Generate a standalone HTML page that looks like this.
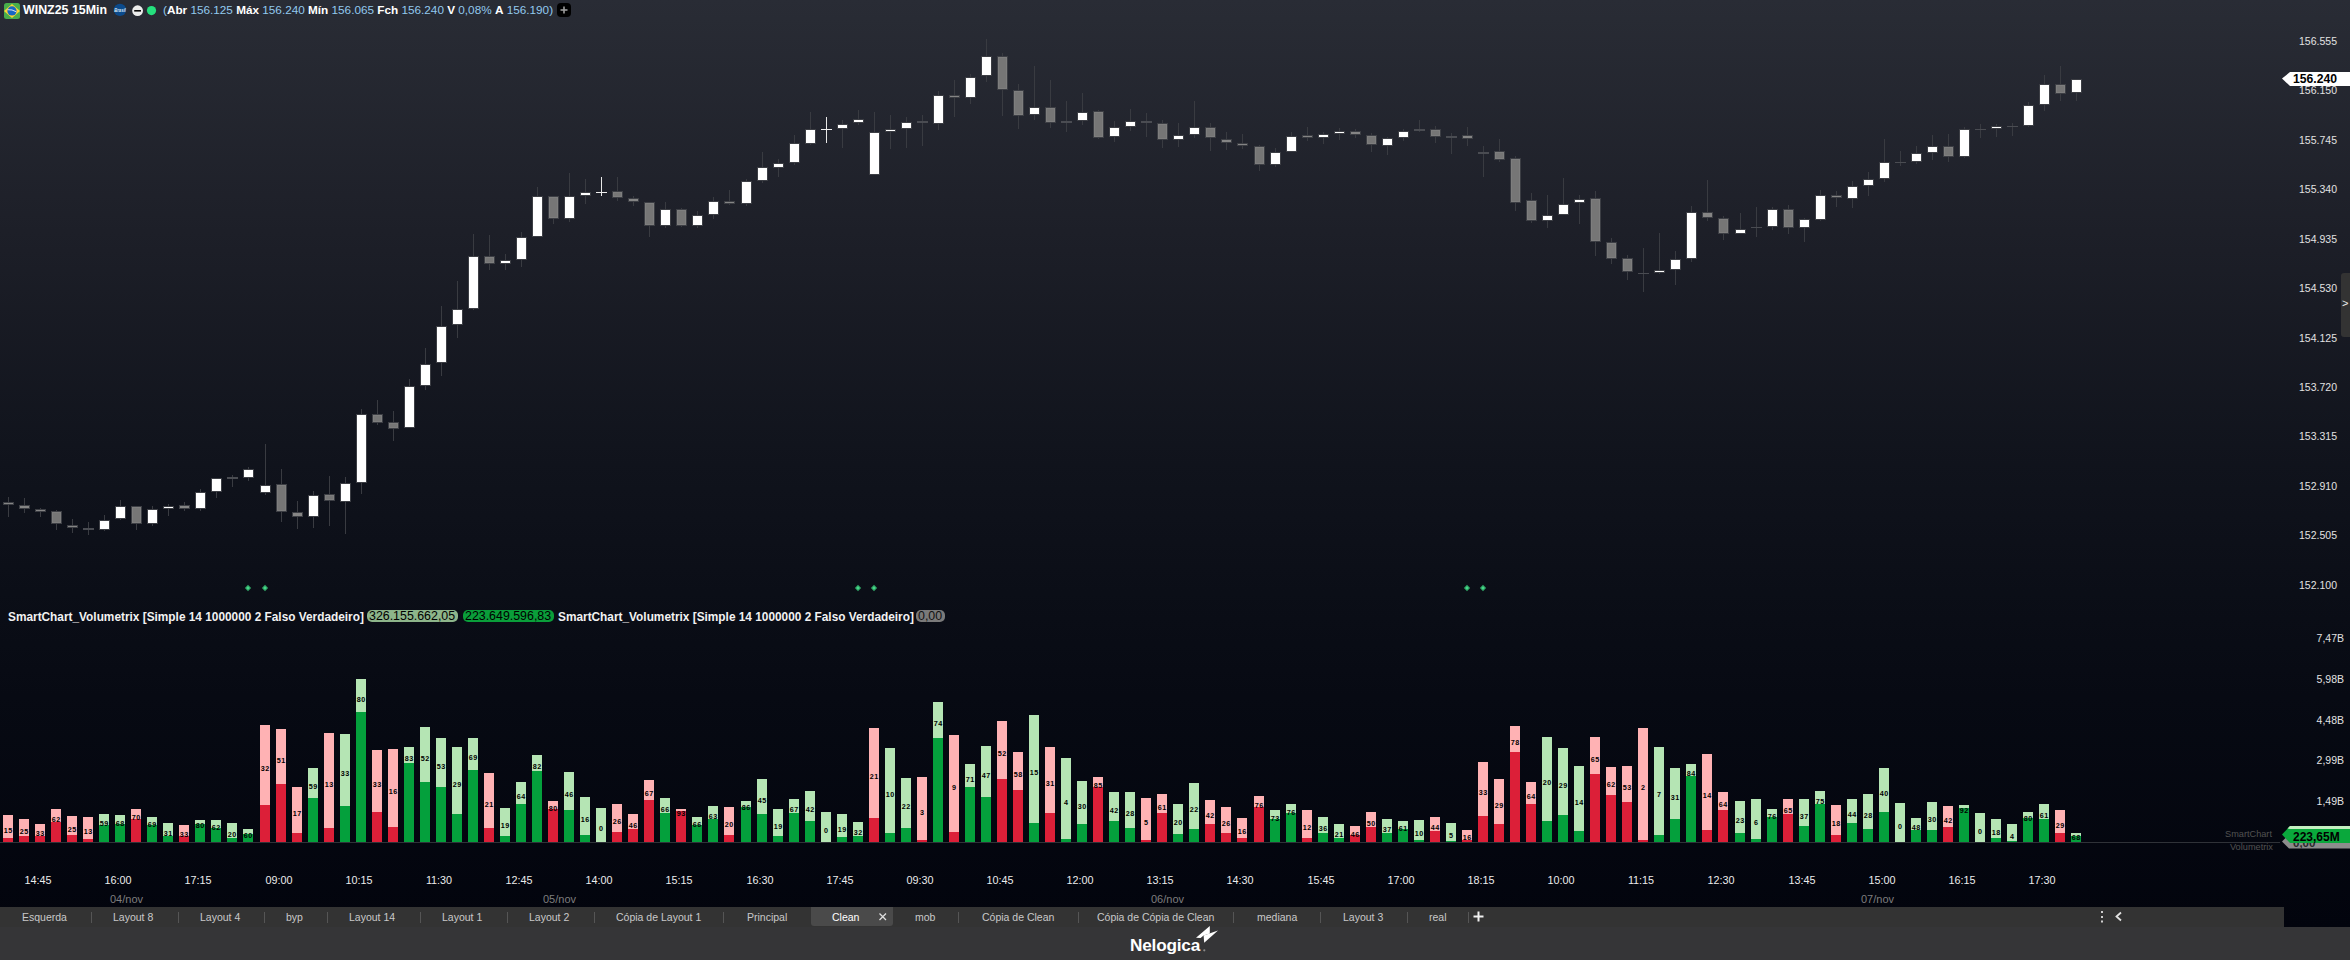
<!DOCTYPE html>
<html><head><meta charset="utf-8"><title>WINZ25 15Min</title>
<style>
html,body{margin:0;padding:0;width:2350px;height:960px;overflow:hidden;background:#353535;}
body{position:relative;font-family:"Liberation Sans",sans-serif;}
.abs{position:absolute;white-space:nowrap;}
#bg{position:absolute;left:0;top:0;width:2350px;height:928px;background:linear-gradient(to bottom,#292c35 0px,#1d1f28 232px,#10131c 464px,#070a13 696px,#02040d 928px);}
#tabbar{position:absolute;left:0;top:907px;width:2284px;height:20px;background:#333333;}
#bottom{position:absolute;left:0;top:927px;width:2350px;height:33px;background:#353537;}
.px{position:absolute;right:13px;width:60px;text-align:right;font-size:10.5px;color:#e2e2e2;line-height:12px;}
.vx{position:absolute;right:6px;width:60px;text-align:right;font-size:10.5px;color:#e2e2e2;line-height:12px;}
.tl{position:absolute;top:874px;font-size:10.8px;color:#ececec;line-height:12px;width:40px;text-align:center;}
.dl{position:absolute;top:893px;font-size:11px;color:#7e7e7e;line-height:12px;}
.tab{position:absolute;top:910.7px;font-size:10.5px;color:#c9c9c9;line-height:13px;}
.sep{position:absolute;top:912px;width:1px;height:11px;background:#555;}
.bl{position:absolute;width:10px;overflow:hidden;text-align:center;font-size:7.2px;font-weight:bold;color:#000;line-height:8px;letter-spacing:0.35px;text-indent:0.35px;}
</style></head><body>
<div id="bg"></div>

<svg class="abs" style="left:0;top:0" width="2350" height="960" shape-rendering="crispEdges">
<rect x="8" y="497" width="1" height="20" fill="#393b41"/>
<rect x="3" y="502" width="11" height="3" fill="#3c3e44"/>
<rect x="4" y="503" width="9" height="1" fill="#858585"/>
<rect x="24" y="498" width="1" height="15" fill="#393b41"/>
<rect x="19" y="505" width="11" height="4" fill="#3c3e44"/>
<rect x="20" y="506" width="9" height="2" fill="#858585"/>
<rect x="40" y="508" width="1" height="9" fill="#393b41"/>
<rect x="35" y="509" width="11" height="3" fill="#3c3e44"/>
<rect x="36" y="510" width="9" height="1" fill="#858585"/>
<rect x="56" y="510" width="1" height="20" fill="#393b41"/>
<rect x="51" y="511" width="11" height="13" fill="#3c3e44"/>
<rect x="52" y="512" width="9" height="11" fill="#7e7e7e"/>
<rect x="53" y="513" width="7" height="9" fill="#767676"/>
<rect x="72" y="519" width="1" height="14" fill="#393b41"/>
<rect x="67" y="525" width="11" height="3" fill="#3c3e44"/>
<rect x="68" y="526" width="9" height="1" fill="#858585"/>
<rect x="88" y="522" width="1" height="13" fill="#393b41"/>
<rect x="83" y="528" width="11" height="2" fill="#4a4c52"/>
<rect x="104" y="515" width="1" height="16" fill="#393b41"/>
<rect x="99" y="520" width="11" height="10" fill="#3c3e44"/>
<rect x="100" y="521" width="9" height="8" fill="#ffffff"/>
<rect x="120" y="500" width="1" height="20" fill="#393b41"/>
<rect x="115" y="506" width="11" height="13" fill="#3c3e44"/>
<rect x="116" y="507" width="9" height="11" fill="#ffffff"/>
<rect x="136" y="506" width="1" height="24" fill="#393b41"/>
<rect x="131" y="506" width="11" height="18" fill="#3c3e44"/>
<rect x="132" y="507" width="9" height="16" fill="#7e7e7e"/>
<rect x="133" y="508" width="7" height="14" fill="#767676"/>
<rect x="152" y="506" width="1" height="20" fill="#393b41"/>
<rect x="147" y="509" width="11" height="15" fill="#3c3e44"/>
<rect x="148" y="510" width="9" height="13" fill="#ffffff"/>
<rect x="168" y="504" width="1" height="12" fill="#393b41"/>
<rect x="163" y="506" width="11" height="3" fill="#3c3e44"/>
<rect x="164" y="507" width="9" height="1" fill="#ffffff"/>
<rect x="184" y="502" width="1" height="9" fill="#393b41"/>
<rect x="179" y="505" width="11" height="4" fill="#3c3e44"/>
<rect x="180" y="506" width="9" height="2" fill="#858585"/>
<rect x="200" y="489" width="1" height="22" fill="#393b41"/>
<rect x="195" y="492" width="11" height="17" fill="#3c3e44"/>
<rect x="196" y="493" width="9" height="15" fill="#ffffff"/>
<rect x="216" y="478" width="1" height="20" fill="#393b41"/>
<rect x="211" y="478" width="11" height="14" fill="#3c3e44"/>
<rect x="212" y="479" width="9" height="12" fill="#ffffff"/>
<rect x="232" y="475" width="1" height="12" fill="#393b41"/>
<rect x="227" y="477" width="11" height="2" fill="#4a4c52"/>
<rect x="248" y="467" width="1" height="14" fill="#393b41"/>
<rect x="243" y="469" width="11" height="9" fill="#3c3e44"/>
<rect x="244" y="470" width="9" height="7" fill="#ffffff"/>
<rect x="265" y="444" width="1" height="51" fill="#393b41"/>
<rect x="260" y="485" width="11" height="8" fill="#3c3e44"/>
<rect x="261" y="486" width="9" height="6" fill="#ffffff"/>
<rect x="281" y="469" width="1" height="53" fill="#393b41"/>
<rect x="276" y="484" width="11" height="28" fill="#3c3e44"/>
<rect x="277" y="485" width="9" height="26" fill="#7e7e7e"/>
<rect x="278" y="486" width="7" height="24" fill="#767676"/>
<rect x="297" y="501" width="1" height="28" fill="#393b41"/>
<rect x="292" y="512" width="11" height="5" fill="#3c3e44"/>
<rect x="293" y="513" width="9" height="3" fill="#858585"/>
<rect x="313" y="491" width="1" height="37" fill="#393b41"/>
<rect x="308" y="495" width="11" height="22" fill="#3c3e44"/>
<rect x="309" y="496" width="9" height="20" fill="#ffffff"/>
<rect x="329" y="476" width="1" height="50" fill="#393b41"/>
<rect x="324" y="494" width="11" height="7" fill="#3c3e44"/>
<rect x="325" y="495" width="9" height="5" fill="#7e7e7e"/>
<rect x="326" y="496" width="7" height="3" fill="#767676"/>
<rect x="345" y="477" width="1" height="57" fill="#393b41"/>
<rect x="340" y="483" width="11" height="19" fill="#3c3e44"/>
<rect x="341" y="484" width="9" height="17" fill="#ffffff"/>
<rect x="361" y="409" width="1" height="85" fill="#393b41"/>
<rect x="356" y="414" width="11" height="69" fill="#3c3e44"/>
<rect x="357" y="415" width="9" height="67" fill="#ffffff"/>
<rect x="377" y="400" width="1" height="25" fill="#393b41"/>
<rect x="372" y="414" width="11" height="9" fill="#3c3e44"/>
<rect x="373" y="415" width="9" height="7" fill="#7e7e7e"/>
<rect x="374" y="416" width="7" height="5" fill="#767676"/>
<rect x="393" y="411" width="1" height="30" fill="#393b41"/>
<rect x="388" y="422" width="11" height="7" fill="#3c3e44"/>
<rect x="389" y="423" width="9" height="5" fill="#7e7e7e"/>
<rect x="390" y="424" width="7" height="3" fill="#767676"/>
<rect x="409" y="379" width="1" height="49" fill="#393b41"/>
<rect x="404" y="386" width="11" height="42" fill="#3c3e44"/>
<rect x="405" y="387" width="9" height="40" fill="#ffffff"/>
<rect x="425" y="348" width="1" height="42" fill="#393b41"/>
<rect x="420" y="364" width="11" height="22" fill="#3c3e44"/>
<rect x="421" y="365" width="9" height="20" fill="#ffffff"/>
<rect x="441" y="306" width="1" height="70" fill="#393b41"/>
<rect x="436" y="326" width="11" height="37" fill="#3c3e44"/>
<rect x="437" y="327" width="9" height="35" fill="#ffffff"/>
<rect x="457" y="281" width="1" height="57" fill="#393b41"/>
<rect x="452" y="309" width="11" height="16" fill="#3c3e44"/>
<rect x="453" y="310" width="9" height="14" fill="#ffffff"/>
<rect x="473" y="234" width="1" height="76" fill="#393b41"/>
<rect x="468" y="256" width="11" height="53" fill="#3c3e44"/>
<rect x="469" y="257" width="9" height="51" fill="#ffffff"/>
<rect x="489" y="235" width="1" height="35" fill="#393b41"/>
<rect x="484" y="256" width="11" height="8" fill="#3c3e44"/>
<rect x="485" y="257" width="9" height="6" fill="#7e7e7e"/>
<rect x="486" y="258" width="7" height="4" fill="#767676"/>
<rect x="505" y="254" width="1" height="16" fill="#393b41"/>
<rect x="500" y="260" width="11" height="4" fill="#3c3e44"/>
<rect x="501" y="261" width="9" height="2" fill="#ffffff"/>
<rect x="521" y="232" width="1" height="35" fill="#393b41"/>
<rect x="516" y="237" width="11" height="23" fill="#3c3e44"/>
<rect x="517" y="238" width="9" height="21" fill="#ffffff"/>
<rect x="537" y="187" width="1" height="49" fill="#393b41"/>
<rect x="532" y="196" width="11" height="41" fill="#3c3e44"/>
<rect x="533" y="197" width="9" height="39" fill="#ffffff"/>
<rect x="553" y="197" width="1" height="27" fill="#393b41"/>
<rect x="548" y="196" width="11" height="23" fill="#3c3e44"/>
<rect x="549" y="197" width="9" height="21" fill="#7e7e7e"/>
<rect x="550" y="198" width="7" height="19" fill="#767676"/>
<rect x="569" y="173" width="1" height="49" fill="#393b41"/>
<rect x="564" y="196" width="11" height="23" fill="#3c3e44"/>
<rect x="565" y="197" width="9" height="21" fill="#ffffff"/>
<rect x="585" y="179" width="1" height="25" fill="#393b41"/>
<rect x="580" y="192" width="11" height="4" fill="#3c3e44"/>
<rect x="581" y="193" width="9" height="2" fill="#ffffff"/>
<rect x="601" y="177" width="1" height="19" fill="#e8e8e8"/>
<rect x="596" y="192" width="11" height="1" fill="#f0f0f0"/>
<rect x="617" y="177" width="1" height="24" fill="#393b41"/>
<rect x="612" y="191" width="11" height="7" fill="#3c3e44"/>
<rect x="613" y="192" width="9" height="5" fill="#7e7e7e"/>
<rect x="614" y="193" width="7" height="3" fill="#767676"/>
<rect x="633" y="196" width="1" height="10" fill="#393b41"/>
<rect x="628" y="198" width="11" height="4" fill="#3c3e44"/>
<rect x="629" y="199" width="9" height="2" fill="#858585"/>
<rect x="649" y="203" width="1" height="34" fill="#393b41"/>
<rect x="644" y="202" width="11" height="24" fill="#3c3e44"/>
<rect x="645" y="203" width="9" height="22" fill="#7e7e7e"/>
<rect x="646" y="204" width="7" height="20" fill="#767676"/>
<rect x="665" y="202" width="1" height="26" fill="#393b41"/>
<rect x="660" y="209" width="11" height="17" fill="#3c3e44"/>
<rect x="661" y="210" width="9" height="15" fill="#ffffff"/>
<rect x="681" y="208" width="1" height="19" fill="#393b41"/>
<rect x="676" y="209" width="11" height="17" fill="#3c3e44"/>
<rect x="677" y="210" width="9" height="15" fill="#7e7e7e"/>
<rect x="678" y="211" width="7" height="13" fill="#767676"/>
<rect x="697" y="211" width="1" height="17" fill="#393b41"/>
<rect x="692" y="215" width="11" height="11" fill="#3c3e44"/>
<rect x="693" y="216" width="9" height="9" fill="#ffffff"/>
<rect x="713" y="197" width="1" height="22" fill="#393b41"/>
<rect x="708" y="201" width="11" height="14" fill="#3c3e44"/>
<rect x="709" y="202" width="9" height="12" fill="#ffffff"/>
<rect x="729" y="190" width="1" height="15" fill="#393b41"/>
<rect x="724" y="201" width="11" height="3" fill="#3c3e44"/>
<rect x="725" y="202" width="9" height="1" fill="#858585"/>
<rect x="746" y="179" width="1" height="27" fill="#393b41"/>
<rect x="741" y="181" width="11" height="23" fill="#3c3e44"/>
<rect x="742" y="182" width="9" height="21" fill="#ffffff"/>
<rect x="762" y="152" width="1" height="31" fill="#393b41"/>
<rect x="757" y="167" width="11" height="14" fill="#3c3e44"/>
<rect x="758" y="168" width="9" height="12" fill="#ffffff"/>
<rect x="778" y="159" width="1" height="18" fill="#393b41"/>
<rect x="773" y="163" width="11" height="5" fill="#3c3e44"/>
<rect x="774" y="164" width="9" height="3" fill="#ffffff"/>
<rect x="794" y="135" width="1" height="30" fill="#393b41"/>
<rect x="789" y="143" width="11" height="20" fill="#3c3e44"/>
<rect x="790" y="144" width="9" height="18" fill="#ffffff"/>
<rect x="810" y="112" width="1" height="33" fill="#393b41"/>
<rect x="805" y="129" width="11" height="15" fill="#3c3e44"/>
<rect x="806" y="130" width="9" height="13" fill="#ffffff"/>
<rect x="826" y="117" width="1" height="26" fill="#e8e8e8"/>
<rect x="821" y="129" width="11" height="1" fill="#f0f0f0"/>
<rect x="842" y="120" width="1" height="28" fill="#393b41"/>
<rect x="837" y="124" width="11" height="5" fill="#3c3e44"/>
<rect x="838" y="125" width="9" height="3" fill="#ffffff"/>
<rect x="858" y="110" width="1" height="15" fill="#393b41"/>
<rect x="853" y="119" width="11" height="4" fill="#3c3e44"/>
<rect x="854" y="120" width="9" height="2" fill="#ffffff"/>
<rect x="874" y="112" width="1" height="62" fill="#393b41"/>
<rect x="869" y="132" width="11" height="43" fill="#3c3e44"/>
<rect x="870" y="133" width="9" height="41" fill="#ffffff"/>
<rect x="890" y="115" width="1" height="34" fill="#393b41"/>
<rect x="885" y="129" width="11" height="3" fill="#3c3e44"/>
<rect x="886" y="130" width="9" height="1" fill="#ffffff"/>
<rect x="906" y="117" width="1" height="31" fill="#393b41"/>
<rect x="901" y="122" width="11" height="7" fill="#3c3e44"/>
<rect x="902" y="123" width="9" height="5" fill="#ffffff"/>
<rect x="922" y="115" width="1" height="31" fill="#393b41"/>
<rect x="917" y="121" width="11" height="2" fill="#4a4c52"/>
<rect x="938" y="91" width="1" height="39" fill="#393b41"/>
<rect x="933" y="95" width="11" height="29" fill="#3c3e44"/>
<rect x="934" y="96" width="9" height="27" fill="#ffffff"/>
<rect x="954" y="80" width="1" height="37" fill="#393b41"/>
<rect x="949" y="95" width="11" height="3" fill="#3c3e44"/>
<rect x="950" y="96" width="9" height="1" fill="#858585"/>
<rect x="970" y="74" width="1" height="30" fill="#393b41"/>
<rect x="965" y="77" width="11" height="21" fill="#3c3e44"/>
<rect x="966" y="78" width="9" height="19" fill="#ffffff"/>
<rect x="986" y="39" width="1" height="43" fill="#393b41"/>
<rect x="981" y="56" width="11" height="20" fill="#3c3e44"/>
<rect x="982" y="57" width="9" height="18" fill="#ffffff"/>
<rect x="1002" y="53" width="1" height="63" fill="#393b41"/>
<rect x="997" y="56" width="11" height="34" fill="#3c3e44"/>
<rect x="998" y="57" width="9" height="32" fill="#7e7e7e"/>
<rect x="999" y="58" width="7" height="30" fill="#767676"/>
<rect x="1018" y="84" width="1" height="45" fill="#393b41"/>
<rect x="1013" y="90" width="11" height="26" fill="#3c3e44"/>
<rect x="1014" y="91" width="9" height="24" fill="#7e7e7e"/>
<rect x="1015" y="92" width="7" height="22" fill="#767676"/>
<rect x="1034" y="66" width="1" height="54" fill="#393b41"/>
<rect x="1029" y="107" width="11" height="8" fill="#3c3e44"/>
<rect x="1030" y="108" width="9" height="6" fill="#ffffff"/>
<rect x="1050" y="80" width="1" height="48" fill="#393b41"/>
<rect x="1045" y="107" width="11" height="16" fill="#3c3e44"/>
<rect x="1046" y="108" width="9" height="14" fill="#7e7e7e"/>
<rect x="1047" y="109" width="7" height="12" fill="#767676"/>
<rect x="1066" y="101" width="1" height="31" fill="#393b41"/>
<rect x="1061" y="121" width="11" height="2" fill="#4a4c52"/>
<rect x="1082" y="93" width="1" height="32" fill="#393b41"/>
<rect x="1077" y="112" width="11" height="9" fill="#3c3e44"/>
<rect x="1078" y="113" width="9" height="7" fill="#ffffff"/>
<rect x="1098" y="110" width="1" height="29" fill="#393b41"/>
<rect x="1093" y="111" width="11" height="27" fill="#3c3e44"/>
<rect x="1094" y="112" width="9" height="25" fill="#7e7e7e"/>
<rect x="1095" y="113" width="7" height="23" fill="#767676"/>
<rect x="1114" y="121" width="1" height="21" fill="#393b41"/>
<rect x="1109" y="127" width="11" height="10" fill="#3c3e44"/>
<rect x="1110" y="128" width="9" height="8" fill="#ffffff"/>
<rect x="1130" y="109" width="1" height="22" fill="#393b41"/>
<rect x="1125" y="121" width="11" height="6" fill="#3c3e44"/>
<rect x="1126" y="122" width="9" height="4" fill="#ffffff"/>
<rect x="1146" y="113" width="1" height="24" fill="#393b41"/>
<rect x="1141" y="121" width="11" height="2" fill="#4a4c52"/>
<rect x="1162" y="120" width="1" height="28" fill="#393b41"/>
<rect x="1157" y="123" width="11" height="17" fill="#3c3e44"/>
<rect x="1158" y="124" width="9" height="15" fill="#7e7e7e"/>
<rect x="1159" y="125" width="7" height="13" fill="#767676"/>
<rect x="1178" y="123" width="1" height="24" fill="#393b41"/>
<rect x="1173" y="135" width="11" height="5" fill="#3c3e44"/>
<rect x="1174" y="136" width="9" height="3" fill="#ffffff"/>
<rect x="1194" y="101" width="1" height="37" fill="#393b41"/>
<rect x="1189" y="127" width="11" height="8" fill="#3c3e44"/>
<rect x="1190" y="128" width="9" height="6" fill="#ffffff"/>
<rect x="1210" y="123" width="1" height="28" fill="#393b41"/>
<rect x="1205" y="127" width="11" height="11" fill="#3c3e44"/>
<rect x="1206" y="128" width="9" height="9" fill="#7e7e7e"/>
<rect x="1207" y="129" width="7" height="7" fill="#767676"/>
<rect x="1226" y="132" width="1" height="18" fill="#393b41"/>
<rect x="1221" y="139" width="11" height="4" fill="#3c3e44"/>
<rect x="1222" y="140" width="9" height="2" fill="#858585"/>
<rect x="1242" y="134" width="1" height="15" fill="#393b41"/>
<rect x="1237" y="143" width="11" height="3" fill="#3c3e44"/>
<rect x="1238" y="144" width="9" height="1" fill="#858585"/>
<rect x="1259" y="145" width="1" height="26" fill="#393b41"/>
<rect x="1254" y="146" width="11" height="19" fill="#3c3e44"/>
<rect x="1255" y="147" width="9" height="17" fill="#7e7e7e"/>
<rect x="1256" y="148" width="7" height="15" fill="#767676"/>
<rect x="1275" y="148" width="1" height="19" fill="#393b41"/>
<rect x="1270" y="152" width="11" height="13" fill="#3c3e44"/>
<rect x="1271" y="153" width="9" height="11" fill="#ffffff"/>
<rect x="1291" y="132" width="1" height="19" fill="#393b41"/>
<rect x="1286" y="136" width="11" height="16" fill="#3c3e44"/>
<rect x="1287" y="137" width="9" height="14" fill="#ffffff"/>
<rect x="1307" y="127" width="1" height="14" fill="#393b41"/>
<rect x="1302" y="135" width="11" height="3" fill="#3c3e44"/>
<rect x="1303" y="136" width="9" height="1" fill="#858585"/>
<rect x="1323" y="132" width="1" height="12" fill="#393b41"/>
<rect x="1318" y="134" width="11" height="4" fill="#3c3e44"/>
<rect x="1319" y="135" width="9" height="2" fill="#ffffff"/>
<rect x="1339" y="128" width="1" height="12" fill="#393b41"/>
<rect x="1334" y="131" width="11" height="3" fill="#3c3e44"/>
<rect x="1335" y="132" width="9" height="1" fill="#ffffff"/>
<rect x="1355" y="129" width="1" height="9" fill="#393b41"/>
<rect x="1350" y="131" width="11" height="4" fill="#3c3e44"/>
<rect x="1351" y="132" width="9" height="2" fill="#858585"/>
<rect x="1371" y="133" width="1" height="19" fill="#393b41"/>
<rect x="1366" y="135" width="11" height="10" fill="#3c3e44"/>
<rect x="1367" y="136" width="9" height="8" fill="#7e7e7e"/>
<rect x="1368" y="137" width="7" height="6" fill="#767676"/>
<rect x="1387" y="137" width="1" height="18" fill="#393b41"/>
<rect x="1382" y="138" width="11" height="8" fill="#3c3e44"/>
<rect x="1383" y="139" width="9" height="6" fill="#ffffff"/>
<rect x="1403" y="129" width="1" height="12" fill="#393b41"/>
<rect x="1398" y="131" width="11" height="7" fill="#3c3e44"/>
<rect x="1399" y="132" width="9" height="5" fill="#ffffff"/>
<rect x="1419" y="120" width="1" height="12" fill="#393b41"/>
<rect x="1414" y="129" width="11" height="2" fill="#4a4c52"/>
<rect x="1435" y="126" width="1" height="17" fill="#393b41"/>
<rect x="1430" y="129" width="11" height="8" fill="#3c3e44"/>
<rect x="1431" y="130" width="9" height="6" fill="#7e7e7e"/>
<rect x="1432" y="131" width="7" height="4" fill="#767676"/>
<rect x="1451" y="133" width="1" height="21" fill="#393b41"/>
<rect x="1446" y="136" width="11" height="2" fill="#4a4c52"/>
<rect x="1467" y="127" width="1" height="19" fill="#393b41"/>
<rect x="1462" y="135" width="11" height="4" fill="#3c3e44"/>
<rect x="1463" y="136" width="9" height="2" fill="#858585"/>
<rect x="1483" y="146" width="1" height="31" fill="#393b41"/>
<rect x="1478" y="152" width="11" height="2" fill="#4a4c52"/>
<rect x="1499" y="139" width="1" height="23" fill="#393b41"/>
<rect x="1494" y="151" width="11" height="9" fill="#3c3e44"/>
<rect x="1495" y="152" width="9" height="7" fill="#7e7e7e"/>
<rect x="1496" y="153" width="7" height="5" fill="#767676"/>
<rect x="1515" y="156" width="1" height="55" fill="#393b41"/>
<rect x="1510" y="158" width="11" height="45" fill="#3c3e44"/>
<rect x="1511" y="159" width="9" height="43" fill="#7e7e7e"/>
<rect x="1512" y="160" width="7" height="41" fill="#767676"/>
<rect x="1531" y="193" width="1" height="30" fill="#393b41"/>
<rect x="1526" y="200" width="11" height="21" fill="#3c3e44"/>
<rect x="1527" y="201" width="9" height="19" fill="#7e7e7e"/>
<rect x="1528" y="202" width="7" height="17" fill="#767676"/>
<rect x="1547" y="195" width="1" height="33" fill="#393b41"/>
<rect x="1542" y="215" width="11" height="6" fill="#3c3e44"/>
<rect x="1543" y="216" width="9" height="4" fill="#ffffff"/>
<rect x="1563" y="178" width="1" height="36" fill="#393b41"/>
<rect x="1558" y="204" width="11" height="11" fill="#3c3e44"/>
<rect x="1559" y="205" width="9" height="9" fill="#ffffff"/>
<rect x="1579" y="195" width="1" height="29" fill="#393b41"/>
<rect x="1574" y="199" width="11" height="4" fill="#3c3e44"/>
<rect x="1575" y="200" width="9" height="2" fill="#ffffff"/>
<rect x="1595" y="191" width="1" height="65" fill="#393b41"/>
<rect x="1590" y="198" width="11" height="44" fill="#3c3e44"/>
<rect x="1591" y="199" width="9" height="42" fill="#7e7e7e"/>
<rect x="1592" y="200" width="7" height="40" fill="#767676"/>
<rect x="1611" y="238" width="1" height="26" fill="#393b41"/>
<rect x="1606" y="242" width="11" height="17" fill="#3c3e44"/>
<rect x="1607" y="243" width="9" height="15" fill="#7e7e7e"/>
<rect x="1608" y="244" width="7" height="13" fill="#767676"/>
<rect x="1627" y="255" width="1" height="25" fill="#393b41"/>
<rect x="1622" y="258" width="11" height="14" fill="#3c3e44"/>
<rect x="1623" y="259" width="9" height="12" fill="#7e7e7e"/>
<rect x="1624" y="260" width="7" height="10" fill="#767676"/>
<rect x="1643" y="248" width="1" height="44" fill="#393b41"/>
<rect x="1638" y="273" width="11" height="1" fill="#4a4c52"/>
<rect x="1659" y="233" width="1" height="41" fill="#393b41"/>
<rect x="1654" y="270" width="11" height="3" fill="#3c3e44"/>
<rect x="1655" y="271" width="9" height="1" fill="#ffffff"/>
<rect x="1675" y="251" width="1" height="34" fill="#393b41"/>
<rect x="1670" y="259" width="11" height="11" fill="#3c3e44"/>
<rect x="1671" y="260" width="9" height="9" fill="#ffffff"/>
<rect x="1691" y="206" width="1" height="56" fill="#393b41"/>
<rect x="1686" y="212" width="11" height="47" fill="#3c3e44"/>
<rect x="1687" y="213" width="9" height="45" fill="#ffffff"/>
<rect x="1707" y="180" width="1" height="41" fill="#393b41"/>
<rect x="1702" y="212" width="11" height="6" fill="#3c3e44"/>
<rect x="1703" y="213" width="9" height="4" fill="#858585"/>
<rect x="1723" y="216" width="1" height="24" fill="#393b41"/>
<rect x="1718" y="218" width="11" height="16" fill="#3c3e44"/>
<rect x="1719" y="219" width="9" height="14" fill="#7e7e7e"/>
<rect x="1720" y="220" width="7" height="12" fill="#767676"/>
<rect x="1740" y="213" width="1" height="21" fill="#393b41"/>
<rect x="1735" y="229" width="11" height="5" fill="#3c3e44"/>
<rect x="1736" y="230" width="9" height="3" fill="#ffffff"/>
<rect x="1756" y="207" width="1" height="30" fill="#393b41"/>
<rect x="1751" y="227" width="11" height="1" fill="#4a4c52"/>
<rect x="1772" y="207" width="1" height="23" fill="#393b41"/>
<rect x="1767" y="209" width="11" height="18" fill="#3c3e44"/>
<rect x="1768" y="210" width="9" height="16" fill="#ffffff"/>
<rect x="1788" y="205" width="1" height="29" fill="#393b41"/>
<rect x="1783" y="209" width="11" height="19" fill="#3c3e44"/>
<rect x="1784" y="210" width="9" height="17" fill="#7e7e7e"/>
<rect x="1785" y="211" width="7" height="15" fill="#767676"/>
<rect x="1804" y="218" width="1" height="24" fill="#393b41"/>
<rect x="1799" y="219" width="11" height="9" fill="#3c3e44"/>
<rect x="1800" y="220" width="9" height="7" fill="#ffffff"/>
<rect x="1820" y="190" width="1" height="31" fill="#393b41"/>
<rect x="1815" y="195" width="11" height="25" fill="#3c3e44"/>
<rect x="1816" y="196" width="9" height="23" fill="#ffffff"/>
<rect x="1836" y="191" width="1" height="16" fill="#393b41"/>
<rect x="1831" y="195" width="11" height="3" fill="#3c3e44"/>
<rect x="1832" y="196" width="9" height="1" fill="#858585"/>
<rect x="1852" y="181" width="1" height="27" fill="#393b41"/>
<rect x="1847" y="186" width="11" height="13" fill="#3c3e44"/>
<rect x="1848" y="187" width="9" height="11" fill="#ffffff"/>
<rect x="1868" y="172" width="1" height="24" fill="#393b41"/>
<rect x="1863" y="179" width="11" height="7" fill="#3c3e44"/>
<rect x="1864" y="180" width="9" height="5" fill="#ffffff"/>
<rect x="1884" y="139" width="1" height="43" fill="#393b41"/>
<rect x="1879" y="162" width="11" height="17" fill="#3c3e44"/>
<rect x="1880" y="163" width="9" height="15" fill="#ffffff"/>
<rect x="1900" y="151" width="1" height="15" fill="#393b41"/>
<rect x="1895" y="162" width="11" height="1" fill="#4a4c52"/>
<rect x="1916" y="146" width="1" height="18" fill="#393b41"/>
<rect x="1911" y="153" width="11" height="9" fill="#3c3e44"/>
<rect x="1912" y="154" width="9" height="7" fill="#ffffff"/>
<rect x="1932" y="135" width="1" height="25" fill="#393b41"/>
<rect x="1927" y="146" width="11" height="7" fill="#3c3e44"/>
<rect x="1928" y="147" width="9" height="5" fill="#ffffff"/>
<rect x="1948" y="134" width="1" height="28" fill="#393b41"/>
<rect x="1943" y="146" width="11" height="11" fill="#3c3e44"/>
<rect x="1944" y="147" width="9" height="9" fill="#7e7e7e"/>
<rect x="1945" y="148" width="7" height="7" fill="#767676"/>
<rect x="1964" y="127" width="1" height="31" fill="#393b41"/>
<rect x="1959" y="129" width="11" height="28" fill="#3c3e44"/>
<rect x="1960" y="130" width="9" height="26" fill="#ffffff"/>
<rect x="1980" y="124" width="1" height="14" fill="#393b41"/>
<rect x="1975" y="129" width="11" height="1" fill="#4a4c52"/>
<rect x="1996" y="124" width="1" height="13" fill="#393b41"/>
<rect x="1991" y="126" width="11" height="3" fill="#3c3e44"/>
<rect x="1992" y="127" width="9" height="1" fill="#ffffff"/>
<rect x="2012" y="123" width="1" height="13" fill="#393b41"/>
<rect x="2007" y="126" width="11" height="1" fill="#4a4c52"/>
<rect x="2028" y="102" width="1" height="25" fill="#393b41"/>
<rect x="2023" y="105" width="11" height="21" fill="#3c3e44"/>
<rect x="2024" y="106" width="9" height="19" fill="#ffffff"/>
<rect x="2044" y="75" width="1" height="36" fill="#393b41"/>
<rect x="2039" y="84" width="11" height="21" fill="#3c3e44"/>
<rect x="2040" y="85" width="9" height="19" fill="#ffffff"/>
<rect x="2060" y="66" width="1" height="35" fill="#393b41"/>
<rect x="2055" y="84" width="11" height="10" fill="#3c3e44"/>
<rect x="2056" y="85" width="9" height="8" fill="#7e7e7e"/>
<rect x="2057" y="86" width="7" height="6" fill="#767676"/>
<rect x="2076" y="80" width="1" height="21" fill="#393b41"/>
<rect x="2071" y="79" width="11" height="14" fill="#3c3e44"/>
<rect x="2072" y="80" width="9" height="12" fill="#ffffff"/>
<path d="M248 584.8 L251.2 588 L248 591.2 L244.8 588 Z" fill="#2f9f62" shape-rendering="auto"/>
<path d="M248 586.3 L249.7 588 L248 589.7 L246.3 588 Z" fill="#47d98b" shape-rendering="auto"/>
<path d="M265 584.8 L268.2 588 L265 591.2 L261.8 588 Z" fill="#2f9f62" shape-rendering="auto"/>
<path d="M265 586.3 L266.7 588 L265 589.7 L263.3 588 Z" fill="#47d98b" shape-rendering="auto"/>
<path d="M858 584.8 L861.2 588 L858 591.2 L854.8 588 Z" fill="#2f9f62" shape-rendering="auto"/>
<path d="M858 586.3 L859.7 588 L858 589.7 L856.3 588 Z" fill="#47d98b" shape-rendering="auto"/>
<path d="M874 584.8 L877.2 588 L874 591.2 L870.8 588 Z" fill="#2f9f62" shape-rendering="auto"/>
<path d="M874 586.3 L875.7 588 L874 589.7 L872.3 588 Z" fill="#47d98b" shape-rendering="auto"/>
<path d="M1467 584.8 L1470.2 588 L1467 591.2 L1463.8 588 Z" fill="#2f9f62" shape-rendering="auto"/>
<path d="M1467 586.3 L1468.7 588 L1467 589.7 L1465.3 588 Z" fill="#47d98b" shape-rendering="auto"/>
<path d="M1483 584.8 L1486.2 588 L1483 591.2 L1479.8 588 Z" fill="#2f9f62" shape-rendering="auto"/>
<path d="M1483 586.3 L1484.7 588 L1483 589.7 L1481.3 588 Z" fill="#47d98b" shape-rendering="auto"/>
<rect x="3" y="815" width="10" height="23" fill="#ffb2b4"/>
<rect x="3" y="838" width="10" height="4" fill="#dc1f38"/>
<rect x="19" y="819" width="10" height="17" fill="#ffb2b4"/>
<rect x="19" y="836" width="10" height="6" fill="#dc1f38"/>
<rect x="35" y="824" width="10" height="12" fill="#ffb2b4"/>
<rect x="35" y="836" width="10" height="6" fill="#dc1f38"/>
<rect x="51" y="809" width="10" height="13" fill="#ffb2b4"/>
<rect x="51" y="822" width="10" height="20" fill="#dc1f38"/>
<rect x="67" y="816" width="10" height="19" fill="#ffb2b4"/>
<rect x="67" y="835" width="10" height="7" fill="#dc1f38"/>
<rect x="83" y="817" width="10" height="22" fill="#ffb2b4"/>
<rect x="83" y="839" width="10" height="3" fill="#dc1f38"/>
<rect x="99" y="814" width="10" height="11" fill="#b5e5b4"/>
<rect x="99" y="825" width="10" height="17" fill="#04a03c"/>
<rect x="115" y="815" width="10" height="9" fill="#b5e5b4"/>
<rect x="115" y="824" width="10" height="18" fill="#04a03c"/>
<rect x="131" y="809" width="10" height="10" fill="#ffb2b4"/>
<rect x="131" y="819" width="10" height="23" fill="#dc1f38"/>
<rect x="147" y="817" width="10" height="8" fill="#b5e5b4"/>
<rect x="147" y="825" width="10" height="17" fill="#04a03c"/>
<rect x="163" y="823" width="10" height="13" fill="#b5e5b4"/>
<rect x="163" y="836" width="10" height="6" fill="#04a03c"/>
<rect x="179" y="825" width="10" height="11" fill="#ffb2b4"/>
<rect x="179" y="836" width="10" height="6" fill="#dc1f38"/>
<rect x="195" y="820" width="10" height="4" fill="#b5e5b4"/>
<rect x="195" y="824" width="10" height="18" fill="#04a03c"/>
<rect x="211" y="820" width="10" height="8" fill="#b5e5b4"/>
<rect x="211" y="828" width="10" height="14" fill="#04a03c"/>
<rect x="227" y="823" width="10" height="15" fill="#b5e5b4"/>
<rect x="227" y="838" width="10" height="4" fill="#04a03c"/>
<rect x="243" y="829" width="10" height="5" fill="#b5e5b4"/>
<rect x="243" y="834" width="10" height="8" fill="#04a03c"/>
<rect x="260" y="725" width="10" height="80" fill="#ffb2b4"/>
<rect x="260" y="805" width="10" height="37" fill="#dc1f38"/>
<rect x="276" y="729" width="10" height="55" fill="#ffb2b4"/>
<rect x="276" y="784" width="10" height="58" fill="#dc1f38"/>
<rect x="292" y="787" width="10" height="46" fill="#ffb2b4"/>
<rect x="292" y="833" width="10" height="9" fill="#dc1f38"/>
<rect x="308" y="768" width="10" height="30" fill="#b5e5b4"/>
<rect x="308" y="798" width="10" height="44" fill="#04a03c"/>
<rect x="324" y="733" width="10" height="95" fill="#ffb2b4"/>
<rect x="324" y="828" width="10" height="14" fill="#dc1f38"/>
<rect x="340" y="734" width="10" height="72" fill="#b5e5b4"/>
<rect x="340" y="806" width="10" height="36" fill="#04a03c"/>
<rect x="356" y="679" width="10" height="33" fill="#b5e5b4"/>
<rect x="356" y="712" width="10" height="130" fill="#04a03c"/>
<rect x="372" y="750" width="10" height="62" fill="#ffb2b4"/>
<rect x="372" y="812" width="10" height="30" fill="#dc1f38"/>
<rect x="388" y="749" width="10" height="78" fill="#ffb2b4"/>
<rect x="388" y="827" width="10" height="15" fill="#dc1f38"/>
<rect x="404" y="747" width="10" height="16" fill="#b5e5b4"/>
<rect x="404" y="763" width="10" height="79" fill="#04a03c"/>
<rect x="420" y="727" width="10" height="55" fill="#b5e5b4"/>
<rect x="420" y="782" width="10" height="60" fill="#04a03c"/>
<rect x="436" y="738" width="10" height="49" fill="#b5e5b4"/>
<rect x="436" y="787" width="10" height="55" fill="#04a03c"/>
<rect x="452" y="747" width="10" height="67" fill="#b5e5b4"/>
<rect x="452" y="814" width="10" height="28" fill="#04a03c"/>
<rect x="468" y="738" width="10" height="32" fill="#b5e5b4"/>
<rect x="468" y="770" width="10" height="72" fill="#04a03c"/>
<rect x="484" y="773" width="10" height="55" fill="#ffb2b4"/>
<rect x="484" y="828" width="10" height="14" fill="#dc1f38"/>
<rect x="500" y="808" width="10" height="28" fill="#b5e5b4"/>
<rect x="500" y="836" width="10" height="6" fill="#04a03c"/>
<rect x="516" y="782" width="10" height="22" fill="#b5e5b4"/>
<rect x="516" y="804" width="10" height="38" fill="#04a03c"/>
<rect x="532" y="755" width="10" height="16" fill="#b5e5b4"/>
<rect x="532" y="771" width="10" height="71" fill="#04a03c"/>
<rect x="548" y="801" width="10" height="8" fill="#ffb2b4"/>
<rect x="548" y="809" width="10" height="33" fill="#dc1f38"/>
<rect x="564" y="772" width="10" height="38" fill="#b5e5b4"/>
<rect x="564" y="810" width="10" height="32" fill="#04a03c"/>
<rect x="580" y="797" width="10" height="38" fill="#b5e5b4"/>
<rect x="580" y="835" width="10" height="7" fill="#04a03c"/>
<rect x="596" y="808" width="10" height="34" fill="#b5e5b4"/>
<rect x="612" y="804" width="10" height="28" fill="#ffb2b4"/>
<rect x="612" y="832" width="10" height="10" fill="#dc1f38"/>
<rect x="628" y="814" width="10" height="15" fill="#ffb2b4"/>
<rect x="628" y="829" width="10" height="13" fill="#dc1f38"/>
<rect x="644" y="780" width="10" height="20" fill="#ffb2b4"/>
<rect x="644" y="800" width="10" height="42" fill="#dc1f38"/>
<rect x="660" y="798" width="10" height="15" fill="#b5e5b4"/>
<rect x="660" y="813" width="10" height="29" fill="#04a03c"/>
<rect x="676" y="809" width="10" height="2" fill="#ffb2b4"/>
<rect x="676" y="811" width="10" height="31" fill="#dc1f38"/>
<rect x="692" y="817" width="10" height="8" fill="#b5e5b4"/>
<rect x="692" y="825" width="10" height="17" fill="#04a03c"/>
<rect x="708" y="806" width="10" height="13" fill="#b5e5b4"/>
<rect x="708" y="819" width="10" height="23" fill="#04a03c"/>
<rect x="724" y="807" width="10" height="28" fill="#ffb2b4"/>
<rect x="724" y="835" width="10" height="7" fill="#dc1f38"/>
<rect x="741" y="801" width="10" height="6" fill="#b5e5b4"/>
<rect x="741" y="807" width="10" height="35" fill="#04a03c"/>
<rect x="757" y="779" width="10" height="35" fill="#b5e5b4"/>
<rect x="757" y="814" width="10" height="28" fill="#04a03c"/>
<rect x="773" y="809" width="10" height="27" fill="#b5e5b4"/>
<rect x="773" y="836" width="10" height="6" fill="#04a03c"/>
<rect x="789" y="799" width="10" height="14" fill="#b5e5b4"/>
<rect x="789" y="813" width="10" height="29" fill="#04a03c"/>
<rect x="805" y="791" width="10" height="30" fill="#b5e5b4"/>
<rect x="805" y="821" width="10" height="21" fill="#04a03c"/>
<rect x="821" y="812" width="10" height="30" fill="#b5e5b4"/>
<rect x="837" y="814" width="10" height="23" fill="#b5e5b4"/>
<rect x="837" y="837" width="10" height="5" fill="#04a03c"/>
<rect x="853" y="822" width="10" height="14" fill="#b5e5b4"/>
<rect x="853" y="836" width="10" height="6" fill="#04a03c"/>
<rect x="869" y="728" width="10" height="90" fill="#ffb2b4"/>
<rect x="869" y="818" width="10" height="24" fill="#dc1f38"/>
<rect x="885" y="748" width="10" height="85" fill="#b5e5b4"/>
<rect x="885" y="833" width="10" height="9" fill="#04a03c"/>
<rect x="901" y="778" width="10" height="50" fill="#b5e5b4"/>
<rect x="901" y="828" width="10" height="14" fill="#04a03c"/>
<rect x="917" y="777" width="10" height="63" fill="#ffb2b4"/>
<rect x="917" y="840" width="10" height="2" fill="#dc1f38"/>
<rect x="933" y="702" width="10" height="36" fill="#b5e5b4"/>
<rect x="933" y="738" width="10" height="104" fill="#04a03c"/>
<rect x="949" y="735" width="10" height="97" fill="#ffb2b4"/>
<rect x="949" y="832" width="10" height="10" fill="#dc1f38"/>
<rect x="965" y="764" width="10" height="23" fill="#b5e5b4"/>
<rect x="965" y="787" width="10" height="55" fill="#04a03c"/>
<rect x="981" y="746" width="10" height="51" fill="#b5e5b4"/>
<rect x="981" y="797" width="10" height="45" fill="#04a03c"/>
<rect x="997" y="721" width="10" height="58" fill="#ffb2b4"/>
<rect x="997" y="779" width="10" height="63" fill="#dc1f38"/>
<rect x="1013" y="752" width="10" height="38" fill="#ffb2b4"/>
<rect x="1013" y="790" width="10" height="52" fill="#dc1f38"/>
<rect x="1029" y="715" width="10" height="108" fill="#b5e5b4"/>
<rect x="1029" y="823" width="10" height="19" fill="#04a03c"/>
<rect x="1045" y="747" width="10" height="66" fill="#ffb2b4"/>
<rect x="1045" y="813" width="10" height="29" fill="#dc1f38"/>
<rect x="1061" y="758" width="10" height="81" fill="#b5e5b4"/>
<rect x="1061" y="839" width="10" height="3" fill="#04a03c"/>
<rect x="1077" y="781" width="10" height="43" fill="#b5e5b4"/>
<rect x="1077" y="824" width="10" height="18" fill="#04a03c"/>
<rect x="1093" y="777" width="10" height="10" fill="#ffb2b4"/>
<rect x="1093" y="787" width="10" height="55" fill="#dc1f38"/>
<rect x="1109" y="792" width="10" height="29" fill="#b5e5b4"/>
<rect x="1109" y="821" width="10" height="21" fill="#04a03c"/>
<rect x="1125" y="792" width="10" height="36" fill="#b5e5b4"/>
<rect x="1125" y="828" width="10" height="14" fill="#04a03c"/>
<rect x="1141" y="798" width="10" height="42" fill="#ffb2b4"/>
<rect x="1141" y="840" width="10" height="2" fill="#dc1f38"/>
<rect x="1157" y="794" width="10" height="19" fill="#ffb2b4"/>
<rect x="1157" y="813" width="10" height="29" fill="#dc1f38"/>
<rect x="1173" y="804" width="10" height="30" fill="#b5e5b4"/>
<rect x="1173" y="834" width="10" height="8" fill="#04a03c"/>
<rect x="1189" y="783" width="10" height="46" fill="#b5e5b4"/>
<rect x="1189" y="829" width="10" height="13" fill="#04a03c"/>
<rect x="1205" y="800" width="10" height="24" fill="#ffb2b4"/>
<rect x="1205" y="824" width="10" height="18" fill="#dc1f38"/>
<rect x="1221" y="807" width="10" height="26" fill="#ffb2b4"/>
<rect x="1221" y="833" width="10" height="9" fill="#dc1f38"/>
<rect x="1237" y="818" width="10" height="20" fill="#ffb2b4"/>
<rect x="1237" y="838" width="10" height="4" fill="#dc1f38"/>
<rect x="1254" y="796" width="10" height="11" fill="#ffb2b4"/>
<rect x="1254" y="807" width="10" height="35" fill="#dc1f38"/>
<rect x="1270" y="810" width="10" height="9" fill="#b5e5b4"/>
<rect x="1270" y="819" width="10" height="23" fill="#04a03c"/>
<rect x="1286" y="804" width="10" height="9" fill="#b5e5b4"/>
<rect x="1286" y="813" width="10" height="29" fill="#04a03c"/>
<rect x="1302" y="810" width="10" height="28" fill="#ffb2b4"/>
<rect x="1302" y="838" width="10" height="4" fill="#dc1f38"/>
<rect x="1318" y="817" width="10" height="16" fill="#b5e5b4"/>
<rect x="1318" y="833" width="10" height="9" fill="#04a03c"/>
<rect x="1334" y="824" width="10" height="14" fill="#b5e5b4"/>
<rect x="1334" y="838" width="10" height="4" fill="#04a03c"/>
<rect x="1350" y="826" width="10" height="9" fill="#ffb2b4"/>
<rect x="1350" y="835" width="10" height="7" fill="#dc1f38"/>
<rect x="1366" y="812" width="10" height="15" fill="#ffb2b4"/>
<rect x="1366" y="827" width="10" height="15" fill="#dc1f38"/>
<rect x="1382" y="819" width="10" height="14" fill="#b5e5b4"/>
<rect x="1382" y="833" width="10" height="9" fill="#04a03c"/>
<rect x="1398" y="821" width="10" height="8" fill="#b5e5b4"/>
<rect x="1398" y="829" width="10" height="13" fill="#04a03c"/>
<rect x="1414" y="820" width="10" height="20" fill="#b5e5b4"/>
<rect x="1414" y="840" width="10" height="2" fill="#04a03c"/>
<rect x="1430" y="817" width="10" height="14" fill="#ffb2b4"/>
<rect x="1430" y="831" width="10" height="11" fill="#dc1f38"/>
<rect x="1446" y="823" width="10" height="18" fill="#b5e5b4"/>
<rect x="1446" y="841" width="10" height="1" fill="#04a03c"/>
<rect x="1462" y="830" width="10" height="10" fill="#ffb2b4"/>
<rect x="1462" y="840" width="10" height="2" fill="#dc1f38"/>
<rect x="1478" y="762" width="10" height="54" fill="#ffb2b4"/>
<rect x="1478" y="816" width="10" height="26" fill="#dc1f38"/>
<rect x="1494" y="779" width="10" height="45" fill="#ffb2b4"/>
<rect x="1494" y="824" width="10" height="18" fill="#dc1f38"/>
<rect x="1510" y="726" width="10" height="26" fill="#ffb2b4"/>
<rect x="1510" y="752" width="10" height="90" fill="#dc1f38"/>
<rect x="1526" y="782" width="10" height="22" fill="#ffb2b4"/>
<rect x="1526" y="804" width="10" height="38" fill="#dc1f38"/>
<rect x="1542" y="737" width="10" height="84" fill="#b5e5b4"/>
<rect x="1542" y="821" width="10" height="21" fill="#04a03c"/>
<rect x="1558" y="748" width="10" height="67" fill="#b5e5b4"/>
<rect x="1558" y="815" width="10" height="27" fill="#04a03c"/>
<rect x="1574" y="766" width="10" height="65" fill="#b5e5b4"/>
<rect x="1574" y="831" width="10" height="11" fill="#04a03c"/>
<rect x="1590" y="737" width="10" height="37" fill="#ffb2b4"/>
<rect x="1590" y="774" width="10" height="68" fill="#dc1f38"/>
<rect x="1606" y="767" width="10" height="28" fill="#ffb2b4"/>
<rect x="1606" y="795" width="10" height="47" fill="#dc1f38"/>
<rect x="1622" y="766" width="10" height="36" fill="#ffb2b4"/>
<rect x="1622" y="802" width="10" height="40" fill="#dc1f38"/>
<rect x="1638" y="728" width="10" height="112" fill="#ffb2b4"/>
<rect x="1638" y="840" width="10" height="2" fill="#dc1f38"/>
<rect x="1654" y="747" width="10" height="88" fill="#b5e5b4"/>
<rect x="1654" y="835" width="10" height="7" fill="#04a03c"/>
<rect x="1670" y="768" width="10" height="51" fill="#b5e5b4"/>
<rect x="1670" y="819" width="10" height="23" fill="#04a03c"/>
<rect x="1686" y="764" width="10" height="12" fill="#b5e5b4"/>
<rect x="1686" y="776" width="10" height="66" fill="#04a03c"/>
<rect x="1702" y="754" width="10" height="76" fill="#ffb2b4"/>
<rect x="1702" y="830" width="10" height="12" fill="#dc1f38"/>
<rect x="1718" y="792" width="10" height="18" fill="#ffb2b4"/>
<rect x="1718" y="810" width="10" height="32" fill="#dc1f38"/>
<rect x="1735" y="801" width="10" height="32" fill="#b5e5b4"/>
<rect x="1735" y="833" width="10" height="9" fill="#04a03c"/>
<rect x="1751" y="799" width="10" height="40" fill="#b5e5b4"/>
<rect x="1751" y="839" width="10" height="3" fill="#04a03c"/>
<rect x="1767" y="809" width="10" height="8" fill="#b5e5b4"/>
<rect x="1767" y="817" width="10" height="25" fill="#04a03c"/>
<rect x="1783" y="799" width="10" height="15" fill="#ffb2b4"/>
<rect x="1783" y="814" width="10" height="28" fill="#dc1f38"/>
<rect x="1799" y="799" width="10" height="27" fill="#b5e5b4"/>
<rect x="1799" y="826" width="10" height="16" fill="#04a03c"/>
<rect x="1815" y="791" width="10" height="13" fill="#b5e5b4"/>
<rect x="1815" y="804" width="10" height="38" fill="#04a03c"/>
<rect x="1831" y="805" width="10" height="30" fill="#ffb2b4"/>
<rect x="1831" y="835" width="10" height="7" fill="#dc1f38"/>
<rect x="1847" y="799" width="10" height="24" fill="#b5e5b4"/>
<rect x="1847" y="823" width="10" height="19" fill="#04a03c"/>
<rect x="1863" y="794" width="10" height="35" fill="#b5e5b4"/>
<rect x="1863" y="829" width="10" height="13" fill="#04a03c"/>
<rect x="1879" y="768" width="10" height="44" fill="#b5e5b4"/>
<rect x="1879" y="812" width="10" height="30" fill="#04a03c"/>
<rect x="1895" y="803" width="10" height="39" fill="#b5e5b4"/>
<rect x="1911" y="818" width="10" height="12" fill="#b5e5b4"/>
<rect x="1911" y="830" width="10" height="12" fill="#04a03c"/>
<rect x="1927" y="802" width="10" height="28" fill="#b5e5b4"/>
<rect x="1927" y="830" width="10" height="12" fill="#04a03c"/>
<rect x="1943" y="806" width="10" height="21" fill="#ffb2b4"/>
<rect x="1943" y="827" width="10" height="15" fill="#dc1f38"/>
<rect x="1959" y="805" width="10" height="3" fill="#b5e5b4"/>
<rect x="1959" y="808" width="10" height="34" fill="#04a03c"/>
<rect x="1975" y="813" width="10" height="29" fill="#b5e5b4"/>
<rect x="1991" y="819" width="10" height="19" fill="#b5e5b4"/>
<rect x="1991" y="838" width="10" height="4" fill="#04a03c"/>
<rect x="2007" y="824" width="10" height="17" fill="#b5e5b4"/>
<rect x="2007" y="841" width="10" height="1" fill="#04a03c"/>
<rect x="2023" y="812" width="10" height="6" fill="#b5e5b4"/>
<rect x="2023" y="818" width="10" height="24" fill="#04a03c"/>
<rect x="2039" y="804" width="10" height="15" fill="#b5e5b4"/>
<rect x="2039" y="819" width="10" height="23" fill="#04a03c"/>
<rect x="2055" y="810" width="10" height="23" fill="#ffb2b4"/>
<rect x="2055" y="833" width="10" height="9" fill="#dc1f38"/>
<rect x="2071" y="833" width="10" height="3" fill="#b5e5b4"/>
<rect x="2071" y="836" width="10" height="6" fill="#04a03c"/>
<rect x="0" y="842" width="2280" height="1" fill="#2f3238"/>
</svg>
<div class="bl" style="left:3px;top:826.8px">15</div>
<div class="bl" style="left:19px;top:827.8px">25</div>
<div class="bl" style="left:35px;top:830.3px">33</div>
<div class="bl" style="left:51px;top:815.8px">62</div>
<div class="bl" style="left:67px;top:825.8px">25</div>
<div class="bl" style="left:83px;top:828.3px">13</div>
<div class="bl" style="left:99px;top:819.8px">59</div>
<div class="bl" style="left:115px;top:819.8px">68</div>
<div class="bl" style="left:131px;top:814.3px">70</div>
<div class="bl" style="left:147px;top:821.3px">69</div>
<div class="bl" style="left:163px;top:829.8px">31</div>
<div class="bl" style="left:179px;top:830.8px">33</div>
<div class="bl" style="left:195px;top:822.3px">80</div>
<div class="bl" style="left:211px;top:824.3px">62</div>
<div class="bl" style="left:227px;top:830.8px">20</div>
<div class="bl" style="left:243px;top:831.8px">60</div>
<div class="bl" style="left:260px;top:765.3px">32</div>
<div class="bl" style="left:276px;top:756.8px">51</div>
<div class="bl" style="left:292px;top:810.3px">17</div>
<div class="bl" style="left:308px;top:783.3px">59</div>
<div class="bl" style="left:324px;top:780.8px">13</div>
<div class="bl" style="left:340px;top:770.3px">33</div>
<div class="bl" style="left:356px;top:695.8px">80</div>
<div class="bl" style="left:372px;top:781.3px">33</div>
<div class="bl" style="left:388px;top:788.3px">16</div>
<div class="bl" style="left:404px;top:755.3px">83</div>
<div class="bl" style="left:420px;top:754.8px">52</div>
<div class="bl" style="left:436px;top:762.8px">53</div>
<div class="bl" style="left:452px;top:780.8px">29</div>
<div class="bl" style="left:468px;top:754.3px">69</div>
<div class="bl" style="left:484px;top:800.8px">21</div>
<div class="bl" style="left:500px;top:822.3px">19</div>
<div class="bl" style="left:516px;top:793.3px">64</div>
<div class="bl" style="left:532px;top:763.3px">82</div>
<div class="bl" style="left:548px;top:805.3px">80</div>
<div class="bl" style="left:564px;top:791.3px">46</div>
<div class="bl" style="left:580px;top:816.3px">16</div>
<div class="bl" style="left:596px;top:825.3px">0</div>
<div class="bl" style="left:612px;top:818.3px">26</div>
<div class="bl" style="left:628px;top:821.8px">46</div>
<div class="bl" style="left:644px;top:790.3px">67</div>
<div class="bl" style="left:660px;top:805.8px">66</div>
<div class="bl" style="left:676px;top:810.3px">93</div>
<div class="bl" style="left:692px;top:821.3px">66</div>
<div class="bl" style="left:708px;top:812.8px">63</div>
<div class="bl" style="left:724px;top:821.3px">20</div>
<div class="bl" style="left:741px;top:804.3px">86</div>
<div class="bl" style="left:757px;top:796.8px">45</div>
<div class="bl" style="left:773px;top:822.8px">19</div>
<div class="bl" style="left:789px;top:806.3px">67</div>
<div class="bl" style="left:805px;top:806.3px">42</div>
<div class="bl" style="left:821px;top:827.3px">0</div>
<div class="bl" style="left:837px;top:825.8px">19</div>
<div class="bl" style="left:853px;top:829.3px">32</div>
<div class="bl" style="left:869px;top:773.3px">21</div>
<div class="bl" style="left:885px;top:790.8px">10</div>
<div class="bl" style="left:901px;top:803.3px">22</div>
<div class="bl" style="left:917px;top:808.8px">3</div>
<div class="bl" style="left:933px;top:720.3px">74</div>
<div class="bl" style="left:949px;top:783.8px">9</div>
<div class="bl" style="left:965px;top:775.8px">71</div>
<div class="bl" style="left:981px;top:771.8px">47</div>
<div class="bl" style="left:997px;top:750.3px">52</div>
<div class="bl" style="left:1013px;top:771.3px">58</div>
<div class="bl" style="left:1029px;top:769.3px">15</div>
<div class="bl" style="left:1045px;top:780.3px">31</div>
<div class="bl" style="left:1061px;top:798.8px">4</div>
<div class="bl" style="left:1077px;top:802.8px">30</div>
<div class="bl" style="left:1093px;top:782.3px">85</div>
<div class="bl" style="left:1109px;top:806.8px">42</div>
<div class="bl" style="left:1125px;top:810.3px">28</div>
<div class="bl" style="left:1141px;top:819.3px">5</div>
<div class="bl" style="left:1157px;top:803.8px">61</div>
<div class="bl" style="left:1173px;top:819.3px">20</div>
<div class="bl" style="left:1189px;top:806.3px">22</div>
<div class="bl" style="left:1205px;top:812.3px">42</div>
<div class="bl" style="left:1221px;top:820.3px">26</div>
<div class="bl" style="left:1237px;top:828.3px">16</div>
<div class="bl" style="left:1254px;top:801.8px">76</div>
<div class="bl" style="left:1270px;top:814.8px">73</div>
<div class="bl" style="left:1286px;top:808.8px">76</div>
<div class="bl" style="left:1302px;top:824.3px">12</div>
<div class="bl" style="left:1318px;top:825.3px">36</div>
<div class="bl" style="left:1334px;top:831.3px">21</div>
<div class="bl" style="left:1350px;top:830.8px">46</div>
<div class="bl" style="left:1366px;top:819.8px">50</div>
<div class="bl" style="left:1382px;top:826.3px">37</div>
<div class="bl" style="left:1398px;top:825.3px">61</div>
<div class="bl" style="left:1414px;top:830.3px">10</div>
<div class="bl" style="left:1430px;top:824.3px">44</div>
<div class="bl" style="left:1446px;top:832.3px">5</div>
<div class="bl" style="left:1462px;top:834.0px">16</div>
<div class="bl" style="left:1478px;top:789.3px">33</div>
<div class="bl" style="left:1494px;top:801.8px">29</div>
<div class="bl" style="left:1510px;top:739.3px">78</div>
<div class="bl" style="left:1526px;top:793.3px">64</div>
<div class="bl" style="left:1542px;top:779.3px">20</div>
<div class="bl" style="left:1558px;top:781.8px">29</div>
<div class="bl" style="left:1574px;top:798.8px">14</div>
<div class="bl" style="left:1590px;top:755.8px">65</div>
<div class="bl" style="left:1606px;top:781.3px">62</div>
<div class="bl" style="left:1622px;top:784.3px">53</div>
<div class="bl" style="left:1638px;top:784.3px">2</div>
<div class="bl" style="left:1654px;top:791.3px">7</div>
<div class="bl" style="left:1670px;top:793.8px">31</div>
<div class="bl" style="left:1686px;top:770.3px">84</div>
<div class="bl" style="left:1702px;top:792.3px">14</div>
<div class="bl" style="left:1718px;top:801.3px">64</div>
<div class="bl" style="left:1735px;top:817.3px">23</div>
<div class="bl" style="left:1751px;top:819.3px">6</div>
<div class="bl" style="left:1767px;top:813.3px">76</div>
<div class="bl" style="left:1783px;top:806.8px">65</div>
<div class="bl" style="left:1799px;top:812.8px">37</div>
<div class="bl" style="left:1815px;top:797.8px">75</div>
<div class="bl" style="left:1831px;top:820.3px">18</div>
<div class="bl" style="left:1847px;top:811.3px">44</div>
<div class="bl" style="left:1863px;top:811.8px">28</div>
<div class="bl" style="left:1879px;top:790.3px">40</div>
<div class="bl" style="left:1895px;top:822.8px">0</div>
<div class="bl" style="left:1911px;top:824.3px">48</div>
<div class="bl" style="left:1927px;top:816.3px">30</div>
<div class="bl" style="left:1943px;top:816.8px">42</div>
<div class="bl" style="left:1959px;top:806.8px">92</div>
<div class="bl" style="left:1975px;top:827.8px">0</div>
<div class="bl" style="left:1991px;top:828.8px">18</div>
<div class="bl" style="left:2007px;top:832.8px">4</div>
<div class="bl" style="left:2023px;top:815.3px">80</div>
<div class="bl" style="left:2039px;top:811.8px">61</div>
<div class="bl" style="left:2055px;top:821.8px">29</div>
<div class="bl" style="left:2071px;top:834.0px">68</div>
<div class="px" style="top:35.0px">156.555</div>
<div class="px" style="top:84.4px">156.150</div>
<div class="px" style="top:133.8px">155.745</div>
<div class="px" style="top:183.2px">155.340</div>
<div class="px" style="top:232.6px">154.935</div>
<div class="px" style="top:282.0px">154.530</div>
<div class="px" style="top:331.5px">154.125</div>
<div class="px" style="top:380.9px">153.720</div>
<div class="px" style="top:430.3px">153.315</div>
<div class="px" style="top:479.7px">152.910</div>
<div class="px" style="top:529.1px">152.505</div>
<div class="px" style="top:578.5px">152.100</div>
<svg class="abs" style="left:2280px;top:70px" width="70" height="18"><path d="M2 8.5 L10 2 L70 2 L70 16 L10 16 Z" fill="#ffffff"/></svg>
<div class="abs" style="left:2293px;top:72px;font-size:12.2px;font-weight:bold;color:#000;line-height:14px">156.240</div>
<div class="abs" style="left:2341px;top:273px;width:12px;height:64px;background:#333;border-radius:3px 0 0 3px"></div>
<div class="abs" style="left:2342px;top:297px;font-size:11px;color:#eee;line-height:12px">&gt;</div>
<div class="vx" style="top:632px">7,47B</div>
<div class="vx" style="top:673px">5,98B</div>
<div class="vx" style="top:714px">4,48B</div>
<div class="vx" style="top:754px">2,99B</div>
<div class="vx" style="top:795px">1,49B</div>
<div class="abs" style="left:2225px;top:829px;font-size:9.2px;color:#525252;line-height:10px">SmartChart</div>
<div class="abs" style="left:2230px;top:842px;font-size:9.2px;color:#525252;line-height:10px">Volumetrix</div>
<svg class="abs" style="left:2280px;top:824px" width="70" height="28"><path d="M2 17.5 L9 10.5 L70 10.5 L70 24.5 L9 24.5 Z" fill="#8c8c8c"/></svg>
<div class="abs" style="left:2293px;top:837px;font-size:11.5px;font-weight:bold;color:#2a2a2a;line-height:12px">0,00</div>
<svg class="abs" style="left:2280px;top:824px" width="70" height="28"><path d="M2 10.5 L10 2 L70 2 L70 19 L10 19 Z" fill="#0aa83c"/><path d="M7.5 4.5 L10 2 L70 2 L70 5 L10 5 Z" fill="#c3f0c0"/></svg>
<div class="abs" style="left:2293px;top:829.5px;font-size:12px;font-weight:bold;color:#000;line-height:14px">223,65M</div>
<div class="tl" style="left:18.0px">14:45</div>
<div class="tl" style="left:98.0px">16:00</div>
<div class="tl" style="left:178.0px">17:15</div>
<div class="tl" style="left:259.0px">09:00</div>
<div class="tl" style="left:339.0px">10:15</div>
<div class="tl" style="left:419.0px">11:30</div>
<div class="tl" style="left:499.0px">12:45</div>
<div class="tl" style="left:579.0px">14:00</div>
<div class="tl" style="left:659.0px">15:15</div>
<div class="tl" style="left:740.0px">16:30</div>
<div class="tl" style="left:820.0px">17:45</div>
<div class="tl" style="left:900.0px">09:30</div>
<div class="tl" style="left:980.0px">10:45</div>
<div class="tl" style="left:1060.0px">12:00</div>
<div class="tl" style="left:1140.0px">13:15</div>
<div class="tl" style="left:1220.0px">14:30</div>
<div class="tl" style="left:1301.0px">15:45</div>
<div class="tl" style="left:1381.0px">17:00</div>
<div class="tl" style="left:1461.0px">18:15</div>
<div class="tl" style="left:1541.0px">10:00</div>
<div class="tl" style="left:1621.0px">11:15</div>
<div class="tl" style="left:1701.0px">12:30</div>
<div class="tl" style="left:1782.0px">13:45</div>
<div class="tl" style="left:1862.0px">15:00</div>
<div class="tl" style="left:1942.0px">16:15</div>
<div class="tl" style="left:2022.0px">17:30</div>
<div class="dl" style="left:110px">04/nov</div>
<div class="dl" style="left:543px">05/nov</div>
<div class="dl" style="left:1151px">06/nov</div>
<div class="dl" style="left:1861px">07/nov</div>
<div class="abs" style="left:8px;top:609.8px;font-size:11.85px;font-weight:bold;color:#f2f2f2;line-height:14px">SmartChart_Volumetrix [Simple 14 1000000 2 Falso Verdadeiro]</div>
<div class="abs" style="left:367px;top:610px;width:91px;height:12px;background:#8db58a;border-radius:5px"></div>
<div class="abs" style="left:369px;top:609px;font-size:12.4px;color:#000;line-height:14px">326.155.662,05</div>
<div class="abs" style="left:463px;top:610px;width:91px;height:12px;background:#0a9e3a;border-radius:5px"></div>
<div class="abs" style="left:465px;top:609px;font-size:12.4px;color:#000;line-height:14px">223.649.596,83</div>
<div class="abs" style="left:558px;top:609.8px;font-size:11.85px;font-weight:bold;color:#f2f2f2;line-height:14px">SmartChart_Volumetrix [Simple 14 1000000 2 Falso Verdadeiro]</div>
<div class="abs" style="left:916px;top:610px;width:29px;height:12px;background:#7a7a7a;border-radius:5px"></div>
<div class="abs" style="left:918px;top:609px;font-size:12.4px;color:#111;line-height:14px">0,00</div>
<svg class="abs" style="left:4px;top:3px" width="16" height="16"><rect x="0" y="0" width="16" height="16" rx="2.5" fill="#48ae4b"/><path d="M8 0.9 L16 7.9 L8 15 L0 7.9 Z" fill="#fbd532"/><circle cx="8" cy="7.9" r="4.6" fill="#1767c4"/><path d="M3.6 6.7 Q8 6.2 12.4 8.8" stroke="#f2f2f2" stroke-width="0.9" fill="none"/></svg>
<div class="abs" style="left:23px;top:2px;font-size:12.4px;font-weight:bold;color:#fff;line-height:16px">WINZ25 15Min</div>
<svg class="abs" style="left:113px;top:3px" width="46" height="16"><circle cx="7" cy="6.9" r="6.2" fill="#0b4a8c"/><text x="1.3" y="8.6" textLength="11.4" lengthAdjust="spacingAndGlyphs" font-size="5.2" font-family="Liberation Sans" font-weight="bold" font-style="italic" fill="#dfe9f5">Brasil</text><circle cx="24.6" cy="7.7" r="5.4" fill="#ececec"/><rect x="21.2" y="7" width="6.8" height="1.6" fill="#0a0a0a"/><circle cx="38.5" cy="7.6" r="4.6" fill="#25e07e"/></svg>
<div class="abs" style="left:163px;top:2px;font-size:11.75px;line-height:16px"><span style="color:#92c9ee">(</span><span style="font-weight:bold;color:#fff">Abr&nbsp;</span><span style="color:#92c9ee">156.125&nbsp;</span><span style="font-weight:bold;color:#fff">Máx&nbsp;</span><span style="color:#92c9ee">156.240&nbsp;</span><span style="font-weight:bold;color:#fff">Mín&nbsp;</span><span style="color:#92c9ee">156.065&nbsp;</span><span style="font-weight:bold;color:#fff">Fch&nbsp;</span><span style="color:#92c9ee">156.240&nbsp;</span><span style="font-weight:bold;color:#fff">V&nbsp;</span><span style="color:#92c9ee">0,08%&nbsp;</span><span style="font-weight:bold;color:#fff">A&nbsp;</span><span style="color:#92c9ee">156.190)</span></div>
<div class="abs" style="left:557px;top:3px;width:14px;height:14px;background:#000;border-radius:4px"></div>
<svg class="abs" style="left:557px;top:3px" width="14" height="14"><rect x="3.5" y="6.2" width="7" height="1.6" fill="#9c9c9c"/><rect x="6.2" y="3.5" width="1.6" height="7" fill="#9c9c9c"/></svg>
<div id="tabbar"></div><div id="bottom"></div>
<div class="abs" style="left:811px;top:907px;width:82px;height:19px;background:#4a4a4a;border-radius:0 0 3px 3px"></div>
<div class="tab" style="left:22px;color:#c9c9c9">Esquerda</div>
<div class="tab" style="left:113px;color:#c9c9c9">Layout 8</div>
<div class="tab" style="left:200px;color:#c9c9c9">Layout 4</div>
<div class="tab" style="left:286px;color:#c9c9c9">byp</div>
<div class="tab" style="left:349px;color:#c9c9c9">Layout 14</div>
<div class="tab" style="left:442px;color:#c9c9c9">Layout 1</div>
<div class="tab" style="left:529px;color:#c9c9c9">Layout 2</div>
<div class="tab" style="left:616px;color:#c9c9c9">Cópia de Layout 1</div>
<div class="tab" style="left:747px;color:#c9c9c9">Principal</div>
<div class="tab" style="left:832px;color:#ffffff">Clean</div>
<div class="tab" style="left:915px;color:#c9c9c9">mob</div>
<div class="tab" style="left:982px;color:#c9c9c9">Cópia de Clean</div>
<div class="tab" style="left:1097px;color:#c9c9c9">Cópia de Cópia de Clean</div>
<div class="tab" style="left:1257px;color:#c9c9c9">mediana</div>
<div class="tab" style="left:1343px;color:#c9c9c9">Layout 3</div>
<div class="tab" style="left:1429px;color:#c9c9c9">real</div>
<div class="sep" style="left:91px"></div>
<div class="sep" style="left:178px"></div>
<div class="sep" style="left:264px"></div>
<div class="sep" style="left:327px"></div>
<div class="sep" style="left:420px"></div>
<div class="sep" style="left:507px"></div>
<div class="sep" style="left:594px"></div>
<div class="sep" style="left:723px"></div>
<div class="sep" style="left:958px"></div>
<div class="sep" style="left:1078px"></div>
<div class="sep" style="left:1233px"></div>
<div class="sep" style="left:1320px"></div>
<div class="sep" style="left:1407px"></div>
<div class="sep" style="left:1468px"></div>
<svg class="abs" style="left:878px;top:912px" width="10" height="10"><path d="M1.5 1.5 L8 8 M8 1.5 L1.5 8" stroke="#e0e0e0" stroke-width="1.3"/></svg>
<svg class="abs" style="left:1473px;top:911px" width="12" height="12"><rect x="0.5" y="4.5" width="10" height="2" fill="#f0f0f0"/><rect x="4.5" y="0.5" width="2" height="10" fill="#f0f0f0"/></svg>
<svg class="abs" style="left:2100px;top:910px" width="24" height="14"><rect x="1" y="1" width="2" height="2" fill="#cfcfcf"/><rect x="1" y="6" width="2" height="2" fill="#cfcfcf"/><rect x="1" y="10.5" width="2" height="2" fill="#cfcfcf"/><path d="M21 2.5 L16.5 6.5 L21 10.5" stroke="#e0e0e0" stroke-width="1.8" fill="none"/></svg>
<div class="abs" style="left:1130px;top:934.5px;font-size:17.2px;font-weight:bold;color:#fff;line-height:20px;letter-spacing:-0.2px">Nelogica</div>
<svg class="abs" style="left:1190px;top:922px" width="32" height="32"><path d="M6 15.7 L19.8 3.9 L19.8 11.4 L13.6 13.6 L10.6 16 Z" fill="#fff"/><path d="M13.6 13.6 L28 8.4 L14.2 20.8 Z" fill="#fff"/><circle cx="14.3" cy="28.3" r="1.1" fill="#8a8a8a"/></svg>
</body></html>
